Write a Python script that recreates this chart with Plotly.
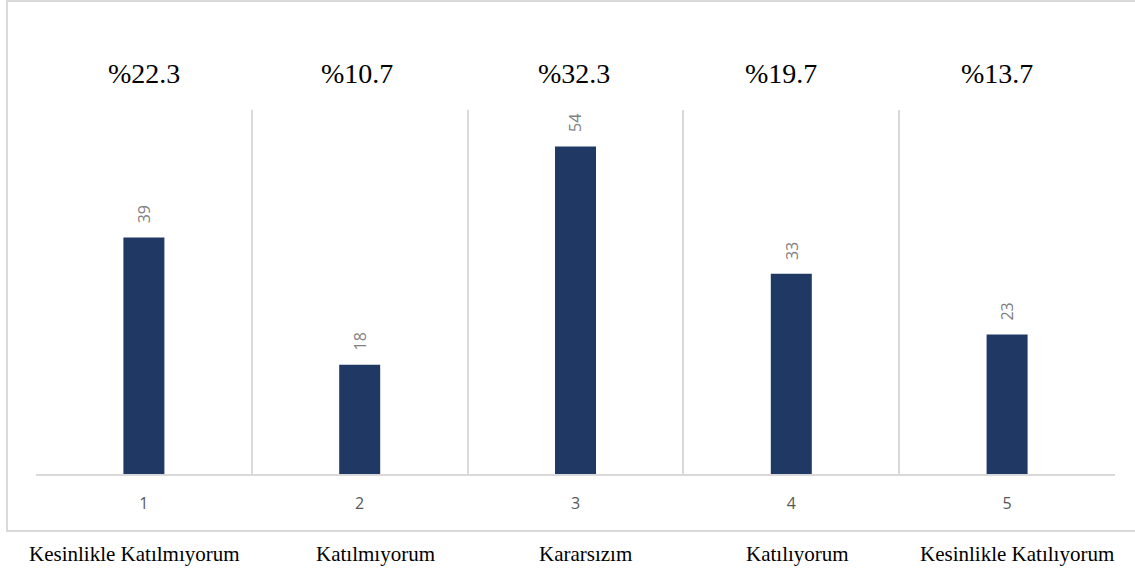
import plotly.graph_objects as go

categories = [1, 2, 3, 4, 5]
counts = [39, 18, 54, 33, 23]
percent_labels = ["%22.3", "%10.7", "%32.3", "%19.7", "%13.7"]
answer_labels = ["Kesinlikle Katılmıyorum", "Katılmıyorum", "Kararsızım",
                 "Katılıyorum", "Kesinlikle Katılıyorum"]
boundaries = [0.5, 1.5, 2.5, 3.5, 4.5, 5.5]

# small horizontal nudges (px) so the text rows sit like in the original
percent_shift = [0, -3, -2, -10, -10]
answer_shift = [-9, 16, 10, 6, 10]

BAR = "#203864"
GRID = "#d9d9d9"
SERIF = "Times New Roman, Liberation Serif, serif"
SANS = "Open Sans, Liberation Sans, sans-serif"

fig = go.Figure()
fig.add_trace(go.Bar(x=categories, y=counts, width=0.19,
                     marker=dict(color=BAR, line=dict(width=0)),
                     hoverinfo="x+y", showlegend=False))

# count labels, rotated, above the bars
for c, v in zip(categories, counts):
    fig.add_annotation(x=c, y=v, xref="x", yref="y", text=str(v),
                       textangle=-90, showarrow=False, yanchor="bottom",
                       yshift=12, font=dict(size=16, color="#7f7f7f", family=SANS))

# percentages at top
for c, p, dx in zip(categories, percent_labels, percent_shift):
    fig.add_annotation(x=c, y=1.1016, xref="x", yref="paper", text=p,
                       showarrow=False, yanchor="middle", xshift=dx,
                       font=dict(size=28, color="black", family=SERIF))

# answer texts below
for c, a, dx in zip(categories, answer_labels, answer_shift):
    fig.add_annotation(x=c, y=-0.2198, xref="x", yref="paper", text=a,
                       showarrow=False, yanchor="middle", xshift=dx,
                       font=dict(size=21, color="black", family=SERIF))

# outer frame
fig.add_shape(type="rect", xref="paper", yref="paper",
              x0=-0.0269, x1=1.05, y0=-0.1566, y1=1.2995,
              line=dict(color=GRID, width=2), layer="below")

fig.update_xaxes(range=[0.5, 5.5], tickvals=categories,
                 ticktext=[str(c) for c in categories],
                 tickfont=dict(size=16, color="#595959", family=SANS),
                 ticklabelstandoff=14,
                 showgrid=False, zeroline=False, ticks="",
                 showline=True, linecolor=GRID, linewidth=2,
                 minor=dict(tickvals=boundaries, showgrid=True,
                            gridcolor=GRID, gridwidth=2, ticks=""))
fig.update_yaxes(range=[0, 60], showgrid=False, zeroline=False,
                 showticklabels=False, ticks="")

fig.update_layout(width=1135, height=569,
                  paper_bgcolor="white", plot_bgcolor="white",
                  margin=dict(l=36, r=20, t=110, b=95),
                  font=dict(family=SANS))

fig.write_html("out.html", config={"displayModeBar": False},
               post_script="document.body.style.margin='0';")
